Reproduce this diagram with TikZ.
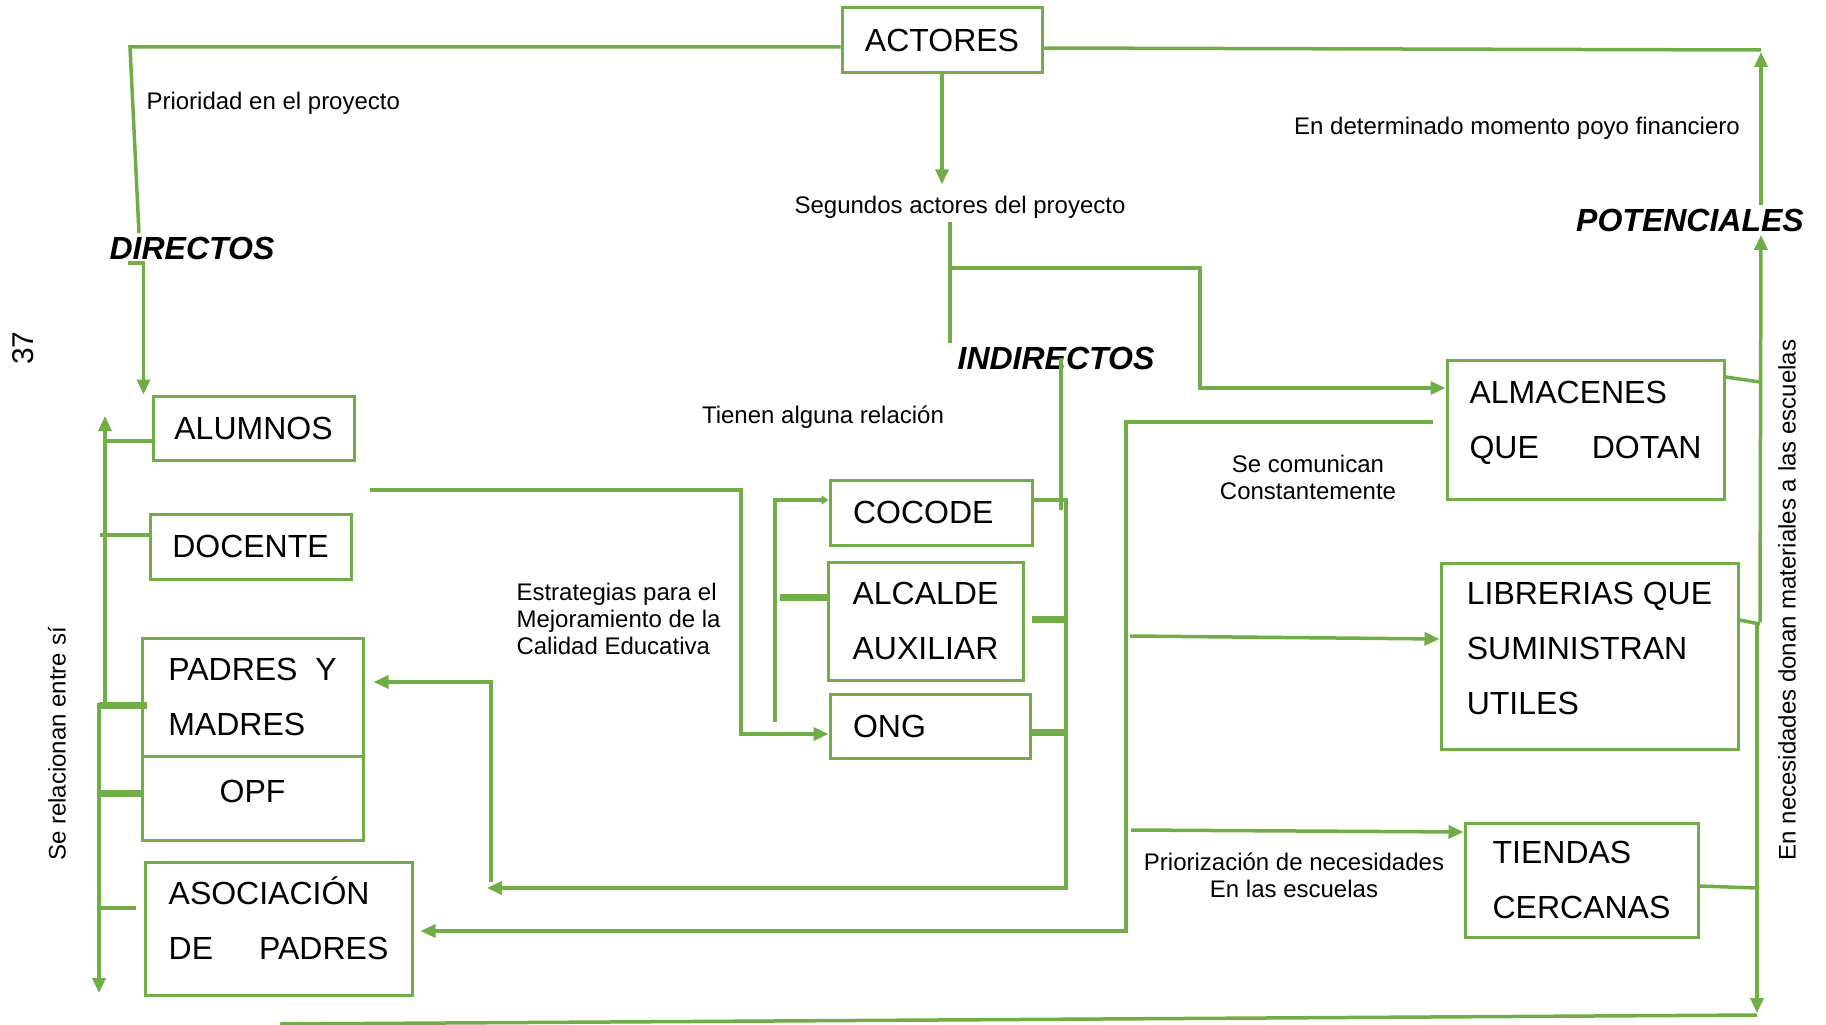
\documentclass[tikz,border=0pt]{standalone}
\usepackage{fontspec}
\setmainfont{Liberation Sans}
\usetikzlibrary{arrows.meta}
\definecolor{verde}{HTML}{70AD47}

\begin{document}
\begin{tikzpicture}[x=1pt,y=-1pt,
    >={Triangle[length=15pt,width=13pt]},
    caja/.style={draw=verde,line width=3pt,shape=rectangle,font=\fontsize{32}{55}\selectfont,align=left,inner sep=0pt},
    tipo/.style={font=\fontsize{32}{38}\selectfont\bfseries\itshape},
    nota/.style={font=\fontsize{24}{27}\selectfont},
    enlace/.style={draw=verde,line width=3.5pt},
    grueso/.style={draw=verde,line width=7pt}]
    \useasboundingbox (0,0) rectangle (1826,1025);

    \draw (942,40.5) node [caja,minimum width=200pt,minimum height=65pt] (actores) {ACTORES} ;
    \draw (253.5,428) node [caja,minimum width=201pt,minimum height=64pt] (alumnos) {ALUMNOS} ;
    \draw (250.5,546.5) node [caja,minimum width=201pt,minimum height=65pt] (docente) {DOCENTE} ;
    \draw (252.5,697) node [caja,minimum width=221pt,minimum height=118pt] (padres) {PADRES~~Y\\MADRES} ;
    \draw (252.5,798) node [caja,minimum width=221pt,minimum height=84pt,text depth=14pt] (opf) {OPF} ;
    \draw (278.5,928.5) node [caja,minimum width=267pt,minimum height=133pt,text depth=21pt] (asociacion) {ASOCIACIÓN\\DE\hspace{46pt}PADRES} ;
    \draw (931,512.5) node [caja,minimum width=202pt,minimum height=65pt,text width=156pt] (cocode) {COCODE} ;
    \draw (925.5,621) node [caja,minimum width=195pt,minimum height=118pt] (alcalde) {ALCALDE\\AUXILIAR} ;
    \draw (930,726) node [caja,minimum width=200pt,minimum height=64pt,text width=154pt] (ong) {ONG} ;
    \draw (1585.5,429.5) node [caja,minimum width=277pt,minimum height=139pt,text depth=19pt] (almacenes) {ALMACENES\\QUE\hspace{53pt}DOTAN} ;
    \draw (1589.5,656) node [caja,minimum width=297pt,minimum height=186pt,text depth=16pt] (librerias) {LIBRERIAS QUE\\SUMINISTRAN\\UTILES} ;
    \draw (1581.5,880) node [caja,minimum width=233pt,minimum height=114pt] (tiendas) {TIENDAS\\CERCANAS} ;

    \draw (192,248) node [tipo] (directos) {DIRECTOS} ;
    \draw (1056,358) node [tipo] (indirectos) {INDIRECTOS} ;
    \draw (1690,220) node [tipo] (potenciales) {POTENCIALES} ;

    \draw (143,103) node [nota,anchor=west] (prioridad) {Prioridad en el proyecto} ;
    \draw (960,207) node [nota] (segundos) {Segundos actores del proyecto} ;
    \draw (1517,128) node [nota] (financiero) {En determinado momento poyo financiero} ;
    \draw (823,417) node [nota] (tienen) {Tienen alguna relación} ;
    \draw (513,619) node [nota,anchor=west,align=left] (estrategias) {Estrategias para el\\Mejoramiento de la\\Calidad Educativa} ;
    \draw (1308,477) node [nota,align=center] (comunican) {Se comunican\\Constantemente} ;
    \draw (1294,875) node [nota,align=center] (priorizacion) {Priorización de necesidades\\En las escuelas} ;
    \draw (57,744) node [nota,rotate=90] (relacionan) {Se relacionan entre sí} ;
    \draw (1787,600) node [nota,rotate=90] (donan) {En necesidades donan materiales a las escuelas} ;
    \draw (23,348) node [font=\fontsize{30}{36}\selectfont,rotate=90] (pagina) {37} ;

    \draw[enlace] (actores.west |- 0,47) -- (130,47) -- (directos.north -| 139,0);
    \draw[enlace,->] (directos.south -| 128,0) -| ([xshift=-8pt]alumnos.north west);
    \draw[enlace,->] (actores.south) -- ([yshift=8pt]actores.south |- segundos.north);
    \draw[enlace] (segundos.south -| 950,0) -- (indirectos.north -| 950,0);
    \draw[enlace,->] (950,268) -| (1200,388) -- (almacenes.west |- 0,388);

    \draw[enlace] (actores.east |- 0,48) -- (1761,50);
    \draw[enlace,->] (potenciales.north -| 1761,0) -- (1761,52);
    \draw[enlace,->] (1760,622) -- (potenciales.south -| 1761,0);
    \draw[enlace,->] (1757,622) -- (1757,1013);
    \draw[enlace] (almacenes.east |- 0,377) -- (1760,382);
    \draw[enlace] (librerias.east |- 0,620) -- (1760,624);
    \draw[enlace] (tiendas.east |- 0,886) -- (1757,888);
    \draw[enlace] (280,1024) -- (1757,1015);

    \draw[enlace,->] (1433,422) -| (1126,931) -- ([xshift=7pt]asociacion.east |- 0,931);
    \draw[enlace,->] (1130,636) -- (librerias.west |- 0,639);
    \draw[enlace,->] (1131,830) -- (tiendas.west |- 0,832);

    \draw[enlace] (indirectos.center -| 1061,0) -- (1061,510);
    \draw[enlace,->] (cocode.east |- 0,500) -| (1066,888) -- (487,888);
    \draw[grueso] ([xshift=7pt]alcalde.east |- 0,619) -- (1068,619);
    \draw[grueso] (ong.east |- 0,732) -- (1068,732);
    \draw[enlace,->] (491,882) |- ([xshift=9pt]padres.east |- 0,682);

    \draw[enlace,->] (370,490) -| (741,734) -- (ong.west |- 0,734);
    \draw[enlace,-{Triangle[length=7pt,width=9pt]}] (775,722) |- (cocode.west |- 0,500);
    \draw[grueso] (780,597) -- (alcalde.west |- 0,597);

    \draw[enlace,->] (105,705) -- (105,416);
    \draw[enlace] (105,441) -- (alumnos.west |- 0,441);
    \draw[enlace] (100,535) -- (docente.west |- 0,535);
    \draw[grueso] (99,705) -- ([xshift=6pt]padres.west |- 0,705);
    \draw[grueso] (99,793) -- (opf.west |- 0,793);
    \draw[enlace] (99,908) -- (136,908);
    \draw[enlace,->] (99,703) -- (99,993);
\end{tikzpicture}
\end{document}
